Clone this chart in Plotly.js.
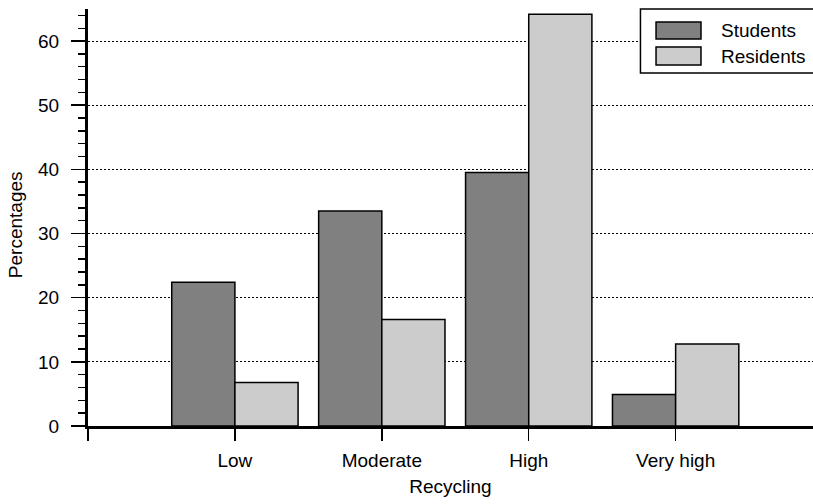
<!DOCTYPE html>
<html>
<head>
<meta charset="utf-8">
<script src="https://cdn.plot.ly/plotly-3.0.1.min.js"></script>
<style>html,body{margin:0;padding:0;background:#fff;}#chart{width:813px;height:504px;}</style>
</head>
<body>
<div id="chart"></div>
<script>
// ---- data ----
const categories = ['Low', 'Moderate', 'High', 'Very high'];
const seriesNames = ['Students', 'Residents'];
const students = [22.4, 33.5, 39.5, 4.9];
const residents = [6.8, 16.6, 64.2, 12.8];
const yTicks = [0, 10, 20, 30, 40, 50, 60];
const xTitle = 'Recycling';
const yTitle = 'Percentages';

const seriesColors = ['#808080', '#cccccc'];
const FONT = 'Liberation Sans, Arial, sans-serif';
const FS = 19;

const xPos = categories.map((c, i) => i + 1);
const values = [students, residents];

const traces = values.map((v, k) => ({
  type: 'bar',
  name: seriesNames[k],
  x: xPos,
  y: v,
  marker: {color: seriesColors[k], line: {color: '#000', width: 1.5}},
  showlegend: false,
  hoverinfo: 'skip'
}));

// custom legend (large swatches like the reference)
const shapes = [
  {type: 'rect', xref: 'paper', yref: 'paper', x0: 0.762, x1: 1.02, y0: 0.8465, y1: 1.0,
   fillcolor: '#fff', line: {color: '#000', width: 1.5}, layer: 'above'}
];
const annotations = [];
const swY = [[0.928, 0.9688], [0.8657, 0.9089]];
const txY = [0.9484, 0.887];
seriesNames.forEach((n, k) => {
  shapes.push({type: 'rect', xref: 'paper', yref: 'paper', x0: 0.7835, x1: 0.8455,
    y0: swY[k][0], y1: swY[k][1], fillcolor: seriesColors[k],
    line: {color: '#000', width: 1.5}, layer: 'above'});
  annotations.push({xref: 'paper', yref: 'paper', x: 0.871, y: txY[k], xanchor: 'left',
    yanchor: 'middle', text: n, showarrow: false, font: {family: FONT, size: FS, color: '#000'}});
});
// y-axis title placed like the reference
annotations.push({xref: 'paper', yref: 'paper', x: -0.1007, y: 0.484, xanchor: 'center', yanchor: 'middle',
  textangle: -90, text: yTitle, showarrow: false, font: {family: FONT, size: FS, color: '#000'}});

const layout = {
  width: 813, height: 504,
  margin: {l: 88, r: 0, t: 9, b: 78},
  paper_bgcolor: '#fff', plot_bgcolor: '#fff',
  barmode: 'group', bargap: 0.14, bargroupgap: 0,
  font: {family: FONT, size: FS, color: '#000'},
  xaxis: {
    range: [0, 4.935], tickmode: 'array', tickvals: [0].concat(xPos), ticktext: [''].concat(categories),
    showline: true, linecolor: '#000', linewidth: 3, ticks: 'outside', ticklen: 12, tickwidth: 1.5,
    tickcolor: '#000', showgrid: false, zeroline: false, ticklabelstandoff: 3,
    title: {text: xTitle, font: {family: FONT, size: FS}, standoff: 10}
  },
  yaxis: {
    range: [0, 65], tickmode: 'array', tickvals: yTicks,
    showline: true, linecolor: '#000', linewidth: 3, ticks: 'outside', ticklen: 14, tickwidth: 1.5,
    tickcolor: '#000', showgrid: true, gridcolor: '#000', gridwidth: 1, griddash: '2px,2px',
    zeroline: false, ticklabelstandoff: 8,
    minor: {dtick: 2, ticks: 'outside', ticklen: 7, tickwidth: 1.5, tickcolor: '#000', showgrid: false}
  },
  shapes: shapes,
  annotations: annotations
};

Plotly.newPlot('chart', traces, layout, {displayModeBar: false, staticPlot: true});
</script>
</body>
</html>
